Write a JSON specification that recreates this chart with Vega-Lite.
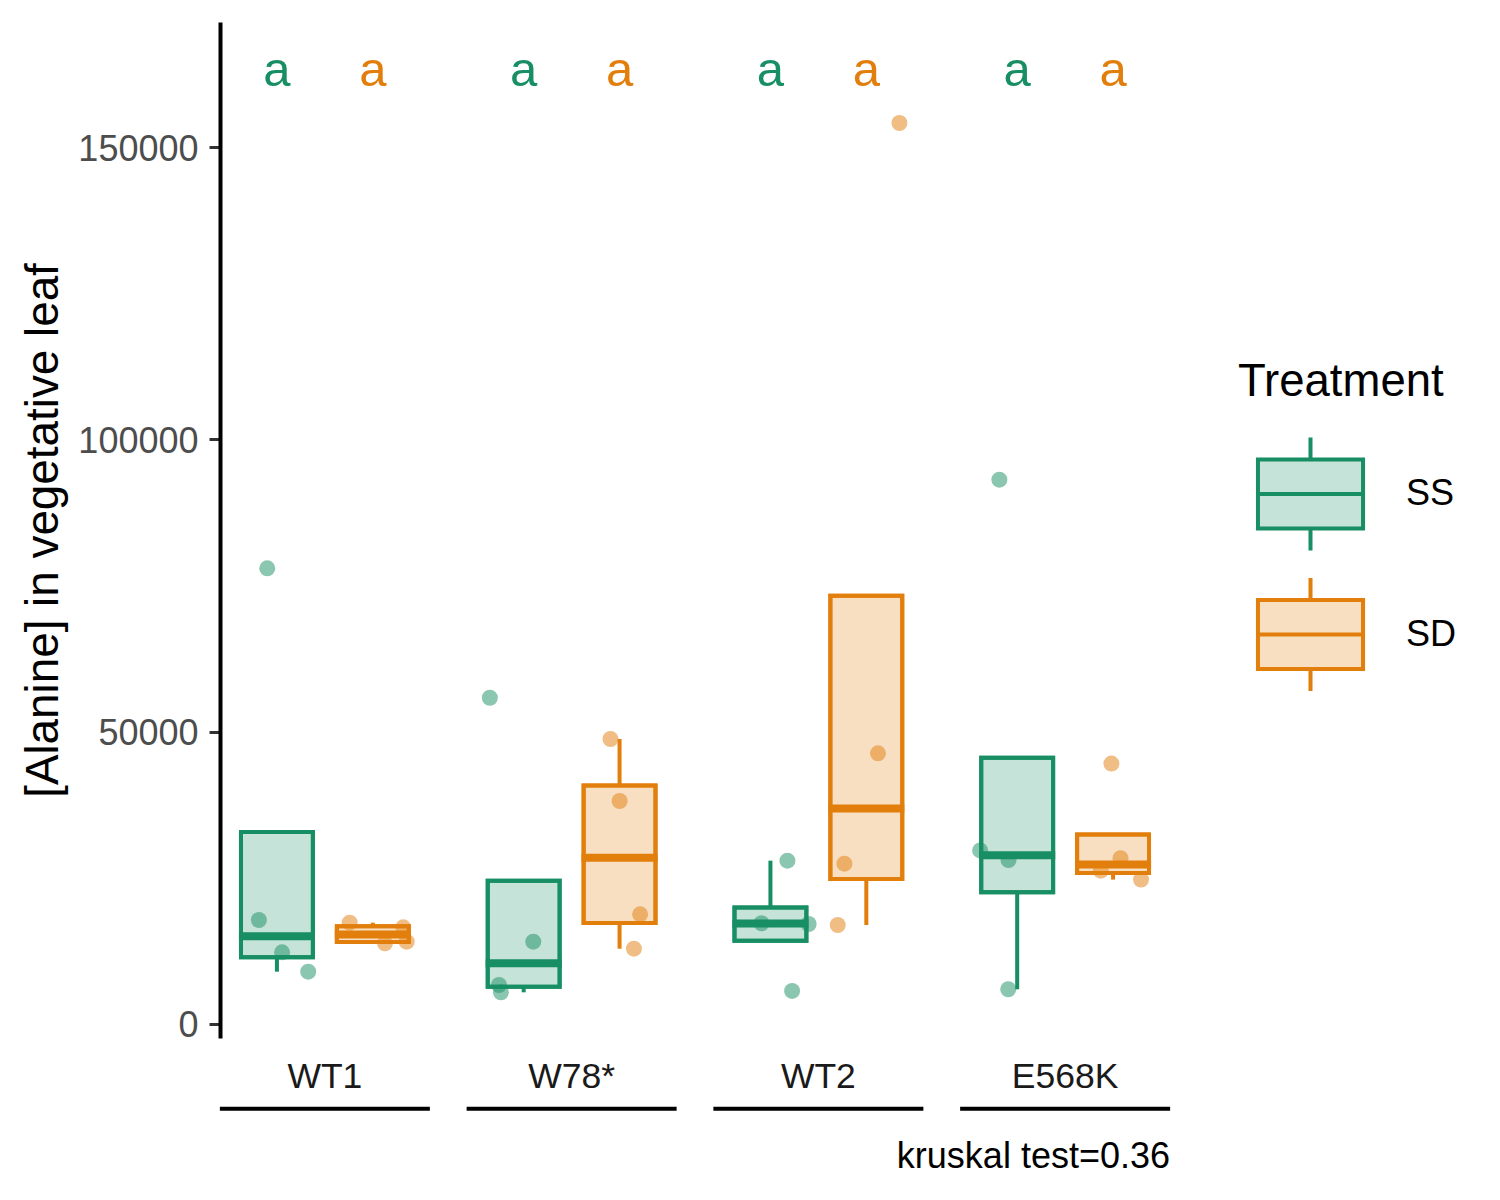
{
  "$schema": "https://vega.github.io/schema/vega-lite/v6.json",
  "description": "Alanine in vegetative leaf by genotype and treatment, boxplots with jittered points.",
  "autosize": "none",
  "width": 950,
  "height": 1016,
  "padding": {"left": 220, "top": 22, "right": 330, "bottom": 162},
  "background": "white",
  "title": {
    "text": "kruskal test=0.36",
    "orient": "bottom",
    "anchor": "end",
    "frame": "group",
    "offset": 29,
    "baseline": "top",
    "fontSize": 36,
    "fontWeight": "normal",
    "color": "black"
  },
  "datasets": {
    "points": [
      {"genotype": "WT1", "treatment": "SS", "value": 77950, "jitter": -0.039},
      {"genotype": "WT1", "treatment": "SS", "value": 17790, "jitter": -0.073},
      {"genotype": "WT1", "treatment": "SS", "value": 12260, "jitter": 0.021},
      {"genotype": "WT1", "treatment": "SS", "value": 8950, "jitter": 0.127},
      {"genotype": "WT1", "treatment": "SD", "value": 17330, "jitter": -0.094},
      {"genotype": "WT1", "treatment": "SD", "value": 16540, "jitter": 0.123},
      {"genotype": "WT1", "treatment": "SD", "value": 14080, "jitter": 0.137},
      {"genotype": "WT1", "treatment": "SD", "value": 13800, "jitter": 0.049},
      {"genotype": "W78*", "treatment": "SS", "value": 55810, "jitter": -0.137},
      {"genotype": "W78*", "treatment": "SS", "value": 14080, "jitter": 0.039},
      {"genotype": "W78*", "treatment": "SS", "value": 6670, "jitter": -0.1},
      {"genotype": "W78*", "treatment": "SS", "value": 5420, "jitter": -0.092},
      {"genotype": "W78*", "treatment": "SD", "value": 48750, "jitter": -0.037},
      {"genotype": "W78*", "treatment": "SD", "value": 38140, "jitter": 0.0},
      {"genotype": "W78*", "treatment": "SD", "value": 18760, "jitter": 0.083},
      {"genotype": "W78*", "treatment": "SD", "value": 12880, "jitter": 0.058},
      {"genotype": "WT2", "treatment": "SS", "value": 27940, "jitter": 0.069},
      {"genotype": "WT2", "treatment": "SS", "value": 17230, "jitter": -0.036},
      {"genotype": "WT2", "treatment": "SS", "value": 17110, "jitter": 0.155},
      {"genotype": "WT2", "treatment": "SS", "value": 5650, "jitter": 0.088},
      {"genotype": "WT2", "treatment": "SD", "value": 154120, "jitter": 0.134},
      {"genotype": "WT2", "treatment": "SD", "value": 46300, "jitter": 0.047},
      {"genotype": "WT2", "treatment": "SD", "value": 27430, "jitter": -0.089},
      {"genotype": "WT2", "treatment": "SD", "value": 16930, "jitter": -0.116},
      {"genotype": "E568K", "treatment": "SS", "value": 93110, "jitter": -0.072},
      {"genotype": "E568K", "treatment": "SS", "value": 29690, "jitter": -0.15},
      {"genotype": "E568K", "treatment": "SS", "value": 28050, "jitter": -0.035},
      {"genotype": "E568K", "treatment": "SS", "value": 5940, "jitter": -0.036},
      {"genotype": "E568K", "treatment": "SD", "value": 44540, "jitter": -0.007},
      {"genotype": "E568K", "treatment": "SD", "value": 28360, "jitter": 0.03},
      {"genotype": "E568K", "treatment": "SD", "value": 26220, "jitter": -0.05},
      {"genotype": "E568K", "treatment": "SD", "value": 24700, "jitter": 0.113}
    ],
    "boxes": [
      {"genotype": "WT1", "treatment": "SS", "lower": 8950, "q1": 11432, "median": 15025, "q3": 32830, "upper": 32830, "letter": "a"},
      {"genotype": "WT1", "treatment": "SD", "lower": 13800, "q1": 14010, "median": 15310, "q3": 16738, "upper": 17330, "letter": "a"},
      {"genotype": "W78*", "treatment": "SS", "lower": 5420, "q1": 6358, "median": 10375, "q3": 24512, "upper": 24512, "letter": "a"},
      {"genotype": "W78*", "treatment": "SD", "lower": 12880, "q1": 17290, "median": 28450, "q3": 40792, "upper": 48750, "letter": "a"},
      {"genotype": "WT2", "treatment": "SS", "lower": 14245, "q1": 14245, "median": 17170, "q3": 19908, "upper": 27940, "letter": "a"},
      {"genotype": "WT2", "treatment": "SD", "lower": 16930, "q1": 24805, "median": 36865, "q3": 73255, "upper": 73255, "letter": "a"},
      {"genotype": "E568K", "treatment": "SS", "lower": 5940, "q1": 22522, "median": 28870, "q3": 45545, "upper": 45545, "letter": "a"},
      {"genotype": "E568K", "treatment": "SD", "lower": 24700, "q1": 25840, "median": 27290, "q3": 32405, "upper": 32405, "letter": "a"}
    ],
    "groups": [
      {"genotype": "WT1"},
      {"genotype": "W78*"},
      {"genotype": "WT2"},
      {"genotype": "E568K"}
    ]
  },
  "resolve": {"scale": {"xOffset": "independent"}},
  "layer": [
    {
      "data": {"name": "boxes"},
      "mark": {"type": "bar", "fillOpacity": 1, "strokeWidth": 4},
      "encoding": {
        "x": {
          "field": "genotype",
          "type": "nominal",
          "title": null,
          "sort": ["WT1", "W78*", "WT2", "E568K"],
          "scale": {"domain": ["WT1", "W78*", "WT2", "E568K"], "paddingInner": 0.15, "paddingOuter": 0}
        },
        "xOffset": {
          "field": "treatment",
          "type": "nominal",
          "sort": ["SS", "SD"],
          "scale": {"domain": ["SS", "SD"], "paddingInner": 0.25, "paddingOuter": 0.21875}
        },
        "y": {
          "field": "q1",
          "type": "quantitative",
          "title": "[Alanine] in vegetative leaf",
          "scale": {"domain": [-2395, 171392], "nice": false, "zero": false},
          "axis": {"values": [0, 50000, 100000, 150000], "format": "d"}
        },
        "y2": {"field": "q3"},
        "color": {
          "field": "treatment",
          "type": "nominal",
          "title": "Treatment",
          "scale": {"domain": ["SS", "SD"], "range": ["rgba(23,142,99,0.25)", "rgba(226,126,11,0.25)"]},
          "legend": {
            "orient": "none",
            "legendX": 1018,
            "legendY": 338,
            "direction": "vertical",
            "symbolOpacity": 1
          }
        },
        "stroke": {
          "field": "treatment",
          "type": "nominal",
          "title": "Treatment",
          "scale": {"domain": ["SS", "SD"], "range": ["#178E63", "#E27E0B"]},
          "legend": {
            "orient": "none",
            "legendX": 1018,
            "legendY": 338,
            "direction": "vertical",
            "symbolOpacity": 1
          }
        }
      }
    },
    {
      "data": {"name": "points"},
      "transform": [
        {"calculate": "(datum.treatment === 'SS' ? -0.1945 : 0.1945) + datum.jitter", "as": "offset"}
      ],
      "mark": {"type": "circle", "size": 256, "opacity": 0.5},
      "encoding": {
        "x": {
          "field": "genotype",
          "type": "nominal",
          "title": null,
          "sort": ["WT1", "W78*", "WT2", "E568K"],
          "scale": {"domain": ["WT1", "W78*", "WT2", "E568K"], "paddingInner": 0.15, "paddingOuter": 0}
        },
        "xOffset": {
          "field": "offset",
          "type": "quantitative",
          "scale": {"domain": [-0.425, 0.425], "range": [0, 209.74], "zero": false, "nice": false}
        },
        "y": {"field": "value", "type": "quantitative", "title": "[Alanine] in vegetative leaf"},
        "color": {"condition": {"test": "datum.treatment === 'SS'", "value": "#178E63"}, "value": "#E27E0B"}
      }
    },
    {
      "data": {"name": "boxes"},
      "encoding": {
        "x": {
          "field": "genotype",
          "type": "nominal",
          "title": null,
          "sort": ["WT1", "W78*", "WT2", "E568K"],
          "scale": {"domain": ["WT1", "W78*", "WT2", "E568K"], "paddingInner": 0.15, "paddingOuter": 0}
        },
        "xOffset": {
          "field": "treatment",
          "type": "nominal",
          "sort": ["SS", "SD"],
          "scale": {"domain": ["SS", "SD"], "paddingInner": 0.25, "paddingOuter": 0.21875}
        },
        "color": {"condition": {"test": "datum.treatment === 'SS'", "value": "#178E63"}, "value": "#E27E0B"}
      },
      "layer": [
        {
          "mark": {"type": "rule", "strokeWidth": 4, "strokeCap": "butt"},
          "encoding": {
            "y": {"field": "lower", "type": "quantitative", "title": "[Alanine] in vegetative leaf"},
            "y2": {"field": "q1"}
          }
        },
        {
          "mark": {"type": "rule", "strokeWidth": 4, "strokeCap": "butt"},
          "encoding": {
            "y": {"field": "q3", "type": "quantitative", "title": "[Alanine] in vegetative leaf"},
            "y2": {"field": "upper"}
          }
        },
        {
          "mark": {"type": "bar", "filled": false, "strokeWidth": 4},
          "encoding": {
            "y": {"field": "q1", "type": "quantitative", "title": "[Alanine] in vegetative leaf"},
            "y2": {"field": "q3"}
          }
        },
        {
          "mark": {"type": "tick", "orient": "horizontal", "size": 76, "thickness": 8, "opacity": 1},
          "encoding": {
            "y": {"field": "median", "type": "quantitative", "title": "[Alanine] in vegetative leaf"}
          }
        },
        {
          "mark": {"type": "text", "fontSize": 49, "baseline": "alphabetic", "align": "center"},
          "encoding": {
            "y": {"datum": 160445, "type": "quantitative", "title": "[Alanine] in vegetative leaf"},
            "text": {"field": "letter"}
          }
        }
      ]
    },
    {
      "data": {"name": "groups"},
      "mark": {"type": "tick", "orient": "horizontal", "size": 210, "thickness": 4, "color": "black", "opacity": 1},
      "encoding": {
        "x": {
          "field": "genotype",
          "type": "nominal",
          "title": null,
          "sort": ["WT1", "W78*", "WT2", "E568K"],
          "scale": {"domain": ["WT1", "W78*", "WT2", "E568K"], "paddingInner": 0.15, "paddingOuter": 0}
        },
        "y": {"datum": -14488, "type": "quantitative", "title": "[Alanine] in vegetative leaf"}
      }
    }
  ],
  "config": {
    "font": "Liberation Sans",
    "view": {"stroke": null},
    "axis": {"labelFont": "Liberation Sans", "titleFont": "Liberation Sans", "grid": false},
    "axisX": {
      "domain": false,
      "ticks": false,
      "tickSize": 0,
      "labelAngle": 0,
      "labelFontSize": 35.5,
      "labelColor": "#1A1A1A",
      "labelPadding": 21
    },
    "axisY": {
      "domainColor": "black",
      "domainWidth": 4,
      "tickColor": "#333333",
      "tickWidth": 3,
      "tickSize": 11,
      "labelFontSize": 36,
      "labelColor": "#4D4D4D",
      "labelPadding": 11,
      "labelBaseline": "alphabetic",
      "labelOffset": 13,
      "titleFontSize": 45.8,
      "titleFontWeight": "normal",
      "titleColor": "black",
      "titleX": -163,
      "titleY": 508,
      "titleAngle": 270,
      "titleAlign": "center",
      "titleBaseline": "alphabetic"
    },
    "legend": {
      "labelFont": "Liberation Sans",
      "titleFont": "Liberation Sans",
      "padding": 0,
      "titleLimit": 500,
      "titleFontSize": 45.5,
      "titleFontWeight": "normal",
      "titleColor": "black",
      "titlePadding": 30,
      "labelFontSize": 36,
      "labelColor": "black",
      "labelOffset": 37,
      "symbolOffset": 14,
      "rowPadding": 11.5,
      "symbolType": "M-0.93,-0.61H0.93V0.61H-0.93Z M-0.93,0H0.93 M0,-0.61V-1 M0,0.61V1",
      "symbolSize": 12769,
      "symbolStrokeWidth": 4
    }
  }
}
